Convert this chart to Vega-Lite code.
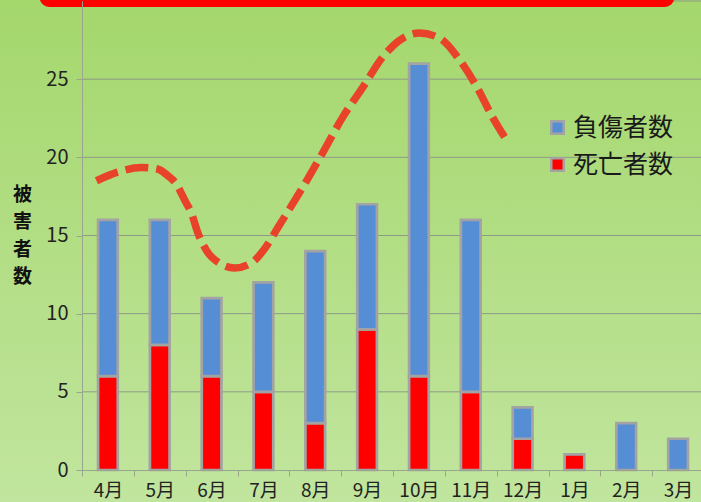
{
  "$schema": "https://vega.github.io/schema/vega-lite/v6.json",
  "width": 622,
  "height": 469,
  "autosize": {"type": "none"},
  "padding": {"left": 82, "top": 1, "right": 0, "bottom": 32},
  "background": "#b3de85",
  "config": {
    "view": {"stroke": null},
    "font": "Noto Sans CJK JP"
  },
  "datasets": {
    "bars": [
      {"month": "4月", "type": "死亡者数", "value": 6},
      {"month": "4月", "type": "負傷者数", "value": 10},
      {"month": "5月", "type": "死亡者数", "value": 8},
      {"month": "5月", "type": "負傷者数", "value": 8},
      {"month": "6月", "type": "死亡者数", "value": 6},
      {"month": "6月", "type": "負傷者数", "value": 5},
      {"month": "7月", "type": "死亡者数", "value": 5},
      {"month": "7月", "type": "負傷者数", "value": 7},
      {"month": "8月", "type": "死亡者数", "value": 3},
      {"month": "8月", "type": "負傷者数", "value": 11},
      {"month": "9月", "type": "死亡者数", "value": 9},
      {"month": "9月", "type": "負傷者数", "value": 8},
      {"month": "10月", "type": "死亡者数", "value": 6},
      {"month": "10月", "type": "負傷者数", "value": 20},
      {"month": "11月", "type": "死亡者数", "value": 5},
      {"month": "11月", "type": "負傷者数", "value": 11},
      {"month": "12月", "type": "死亡者数", "value": 2},
      {"month": "12月", "type": "負傷者数", "value": 2},
      {"month": "1月", "type": "死亡者数", "value": 1},
      {"month": "1月", "type": "負傷者数", "value": 0},
      {"month": "2月", "type": "死亡者数", "value": 0},
      {"month": "2月", "type": "負傷者数", "value": 3},
      {"month": "3月", "type": "死亡者数", "value": 0},
      {"month": "3月", "type": "負傷者数", "value": 2}
    ],
    "curve": [
      {"t": 0.28, "v": 18.5},
      {"t": 0.685, "v": 19.05},
      {"t": 1.15, "v": 19.35},
      {"t": 1.46, "v": 19.25},
      {"t": 1.64, "v": 18.87},
      {"t": 1.82, "v": 18.29},
      {"t": 1.98, "v": 17.27},
      {"t": 2.11, "v": 16.44},
      {"t": 2.23, "v": 15.22},
      {"t": 2.42, "v": 13.94},
      {"t": 2.65, "v": 13.24},
      {"t": 2.94, "v": 12.92},
      {"t": 3.29, "v": 13.3},
      {"t": 3.52, "v": 14.14},
      {"t": 3.81, "v": 15.67},
      {"t": 4.26, "v": 18.09},
      {"t": 4.64, "v": 20.27},
      {"t": 5.03, "v": 22.57},
      {"t": 5.42, "v": 24.49},
      {"t": 5.8, "v": 26.41},
      {"t": 6.19, "v": 27.62},
      {"t": 6.51, "v": 27.95},
      {"t": 6.9, "v": 27.62},
      {"t": 7.29, "v": 26.21},
      {"t": 7.62, "v": 24.49},
      {"t": 7.92, "v": 22.57},
      {"t": 8.19, "v": 21.1}
    ]
  },
  "layer": [
    {
      "data": {"values": [{}]},
      "mark": {
        "type": "rect",
        "clip": false,
        "color": {
          "gradient": "linear",
          "x1": 0, "y1": 0, "x2": 0, "y2": 1,
          "stops": [
            {"offset": 0, "color": "#a4d76c"},
            {"offset": 1, "color": "#c1e59e"}
          ]
        }
      },
      "encoding": {
        "x": {"datum": -1.6, "type": "quantitative", "scale": {"domain": [0, 12], "nice": false, "zero": false}, "axis": null},
        "x2": {"datum": 12.0},
        "y": {"datum": 30.1, "type": "quantitative", "scale": {"domain": [0, 30], "nice": false}, "axis": null},
        "y2": {"datum": -2.1}
      }
    },
    {
      "data": {"values": [{"g": 5}, {"g": 10}, {"g": 15}, {"g": 20}, {"g": 25}, {"g": 30}]},
      "mark": {"type": "rule", "color": "#8e9a86", "strokeWidth": 1},
      "encoding": {
        "y": {"field": "g", "type": "quantitative", "scale": {"domain": [0, 30], "nice": false}, "axis": null}
      }
    },
    {
      "data": {"name": "bars"},
      "transform": [{"filter": "datum.value > 0"}],
      "mark": {"type": "bar", "width": {"band": 0.38}, "stroke": "#a3a3a3", "strokeWidth": 2.7},
      "encoding": {
        "x": {
          "field": "month", "type": "nominal",
          "scale": {"domain": ["4月", "5月", "6月", "7月", "8月", "9月", "10月", "11月", "12月", "1月", "2月", "3月"], "paddingInner": 0, "paddingOuter": 0},
          "axis": {
            "zindex": 2,
            "title": null, "labelAngle": 0, "tickBand": "extent",
            "domainColor": "#9aa590", "tickColor": "#9aa590", "tickSize": 6,
            "labelFontSize": 19, "labelColor": "#222222", "labelPadding": 5, "labelBaseline": "top"
          }
        },
        "y": {
          "field": "value", "type": "quantitative", "stack": "zero",
          "scale": {"domain": [0, 30], "nice": false},
          "axis": {
            "zindex": 2,
            "values": [0, 5, 10, 15, 20, 25], "grid": false,
            "title": ["被", "害", "者", "数"], "titleAngle": 0, "titleFontSize": 19, "titleFontWeight": "bold",
            "titleColor": "#111111", "titleX": -60, "titleY": 184, "titleBaseline": "top", "titleAlign": "center",
            "titleLineHeight": 27.6,
            "labelFontSize": 20, "labelColor": "#222222", "tickSize": 6, "labelPadding": 8,
            "domainColor": "#9aa590", "tickColor": "#9aa590"
          }
        },
        "color": {
          "field": "type", "type": "nominal",
          "scale": {"domain": ["負傷者数", "死亡者数"], "range": ["#558ed5", "#ff0000"]},
          "legend": {
            "title": null, "orient": "none", "legendX": 463, "legendY": 114,
            "symbolType": "square", "symbolSize": 156, "symbolStrokeColor": "#a3a3a3", "symbolStrokeWidth": 2.5,
            "labelFontSize": 25, "labelColor": "#1a1a1a", "rowPadding": 11, "labelOffset": 3, "padding": 0
          }
        },
        "order": {"field": "type", "sort": "ascending"}
      }
    },
    {
      "data": {"name": "curve"},
      "mark": {"type": "line", "interpolate": "monotone", "color": "#e8432a", "strokeWidth": 7.5, "strokeDash": [23, 8], "strokeCap": "butt"},
      "encoding": {
        "x": {"field": "t", "type": "quantitative", "scale": {"domain": [0, 12], "nice": false, "zero": false}, "axis": null},
        "y": {"field": "v", "type": "quantitative", "scale": {"domain": [0, 30], "nice": false}, "axis": null}
      }
    },
    {
      "data": {"values": [{}]},
      "mark": {"type": "rect", "color": "#ff0000", "cornerRadius": 10, "clip": false},
      "encoding": {
        "x": {"datum": -0.82, "type": "quantitative", "scale": {"domain": [0, 12], "nice": false, "zero": false}, "axis": null},
        "x2": {"datum": 11.43},
        "y": {"datum": 31.5, "type": "quantitative", "scale": {"domain": [0, 30], "nice": false}, "axis": null},
        "y2": {"datum": 29.62}
      }
    }
  ],
  "resolve": {
    "scale": {"x": "independent", "y": "independent"},
    "axis": {"x": "independent", "y": "independent"}
  }
}
